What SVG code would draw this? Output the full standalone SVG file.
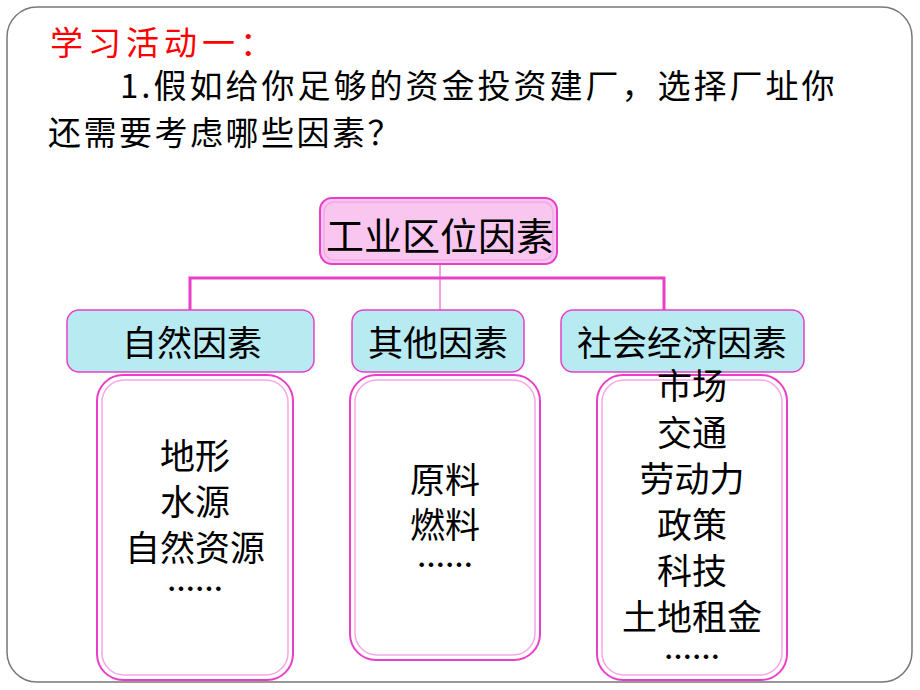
<svg xmlns="http://www.w3.org/2000/svg" width="920" height="690" viewBox="0 0 920 690">
<style>
text{font-family:"Noto Sans CJK SC","Liberation Sans",sans-serif;fill:#000}
.t{font-size:35px;text-anchor:middle}
.d{font-size:28px;text-anchor:middle;font-weight:bold}
.p{fill:#fff;stroke:#e83fc8;stroke-width:2}
.pi{fill:none;stroke:#f6a8e6;stroke-width:1.5}
.b{fill:#b8eaf2;stroke:#e83fc8;stroke-width:1.5}
</style>
<rect width="920" height="690" fill="#fff"/>
<rect x="7" y="7" width="905" height="675" rx="30" fill="#fff" stroke="#777" stroke-width="1.5"/>
<text x="50" y="55" style="font-size:33px;fill:#ff0000;letter-spacing:5px">学习活动一：</text>
<text x="120" y="98" style="font-size:33px;letter-spacing:3px">1.假如给你足够的资金投资建厂，选择厂址你</text>
<text x="48" y="145" style="font-size:33px;letter-spacing:2.5px">还需要考虑哪些因素？</text>
<g id="connectors" fill="none" stroke="#e83fc8">
<path d="M190 310 V278 H664 V310" stroke-width="3"/>
<path d="M440 264 V310" stroke-width="1"/>
</g>
<g id="root">
<rect x="320" y="198" width="237" height="66" rx="12" fill="#f9c6ef" stroke="#e83fc8" stroke-width="2"/>
<rect x="324" y="202" width="229" height="58" rx="10" class="pi"/>
<text x="440" y="250" class="t" style="font-size:38px">工业区位因素</text>
</g>
<g id="n1"><rect x="67" y="310" width="247" height="62" rx="12" class="b"/><text x="192" y="356" class="t">自然因素</text></g>
<g id="n2"><rect x="352" y="310" width="172" height="62" rx="12" class="b"/><text x="438" y="356" class="t">其他因素</text></g>
<g id="n3"><rect x="561" y="310" width="243" height="62" rx="12" class="b"/><text x="682" y="356" class="t">社会经济因素</text></g>
<g id="l1"><rect x="97" y="375" width="196" height="305" rx="26" class="p"/><rect x="102" y="380" width="186" height="295" rx="22" class="pi"/>
<text x="195" y="469" class="t">地形</text><text x="195" y="515" class="t">水源</text><text x="195" y="561" class="t">自然资源</text><text x="195" y="600" class="d">……</text></g>
<g id="l2"><rect x="350" y="375" width="190" height="285" rx="26" class="p"/><rect x="355" y="380" width="180" height="275" rx="22" class="pi"/>
<text x="445" y="493" class="t">原料</text><text x="445" y="538" class="t">燃料</text><text x="445" y="576" class="d">……</text></g>
<g id="l3"><rect x="597" y="375" width="190" height="305" rx="26" class="p"/><rect x="602" y="380" width="180" height="295" rx="22" class="pi"/>
<text x="692" y="399" class="t">市场</text><text x="692" y="446" class="t">交通</text><text x="692" y="492" class="t">劳动力</text><text x="692" y="538" class="t">政策</text><text x="692" y="584" class="t">科技</text><text x="692" y="630" class="t">土地租金</text><text x="692" y="668" class="d">……</text></g>
</svg>
